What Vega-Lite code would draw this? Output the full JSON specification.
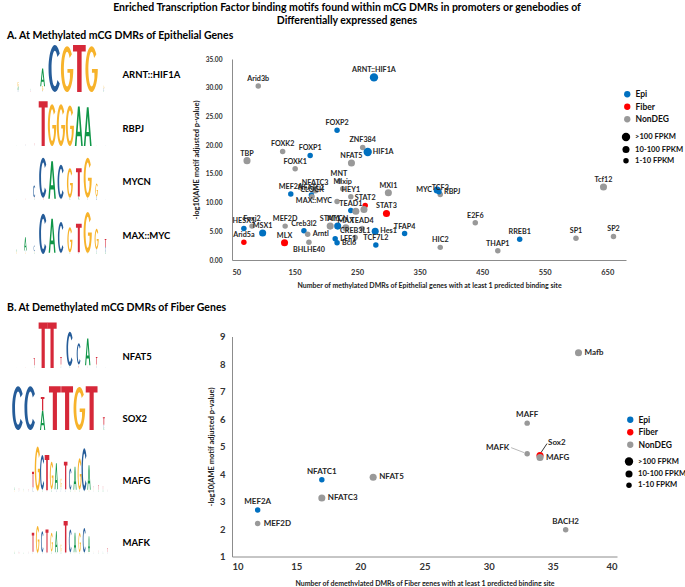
{
  "$schema": "https://vega.github.io/schema/vega-lite/v6.json",
  "background": "white",
  "padding": {"left": 7, "top": 2, "right": 0, "bottom": 0},
  "config": {
    "font": "Lato",
    "view": {"stroke": null},
    "axis": {"grid": false, "ticks": false, "domainColor": "#8c8c8c", "labelColor": "#333333", "titleColor": "#222222", "labelFontWeight": "bold", "titleFontWeight": "bold", "labelFont": "Lato", "titleFont": "Lato"},
    "legend": {"labelFont": "Lato", "labelFontWeight": "bold", "labelColor": "#111111", "padding": 0, "labelFontSize": 8}
  },
  "title": {"text": ["Enriched Transcription Factor binding motifs found within mCG DMRs in promoters or genebodies of", "Differentially expressed genes"], "fontSize": 10.5, "font": "Lato", "fontWeight": "bold", "color": "#000000", "anchor": "middle", "offset": 5, "lineHeight": 13},
  "datasets": {
    "logos": [
      {"panel":"A","motif":"ARNT::HIF1A","pos":1,"letter":"C","b":0,"h":0.08},
      {"panel":"A","motif":"ARNT::HIF1A","pos":1,"letter":"A","b":0.08,"h":0.15},
      {"panel":"A","motif":"ARNT::HIF1A","pos":1,"letter":"G","b":0.23,"h":0.2},
      {"panel":"A","motif":"ARNT::HIF1A","pos":2,"letter":"T","b":0,"h":0.04},
      {"panel":"A","motif":"ARNT::HIF1A","pos":2,"letter":"C","b":0.04,"h":0.05},
      {"panel":"A","motif":"ARNT::HIF1A","pos":2,"letter":"A","b":0.09,"h":0.05},
      {"panel":"A","motif":"ARNT::HIF1A","pos":3,"letter":"C","b":0,"h":0.05},
      {"panel":"A","motif":"ARNT::HIF1A","pos":3,"letter":"G","b":0.05,"h":0.2},
      {"panel":"A","motif":"ARNT::HIF1A","pos":3,"letter":"A","b":0.25,"h":0.75},
      {"panel":"A","motif":"ARNT::HIF1A","pos":4,"letter":"C","b":0,"h":2.0},
      {"panel":"A","motif":"ARNT::HIF1A","pos":5,"letter":"G","b":0,"h":1.95},
      {"panel":"A","motif":"ARNT::HIF1A","pos":6,"letter":"T","b":0,"h":2.0},
      {"panel":"A","motif":"ARNT::HIF1A","pos":7,"letter":"G","b":0,"h":1.95},
      {"panel":"A","motif":"ARNT::HIF1A","pos":8,"letter":"A","b":0,"h":0.05},
      {"panel":"A","motif":"ARNT::HIF1A","pos":8,"letter":"C","b":0.05,"h":0.1},
      {"panel":"A","motif":"ARNT::HIF1A","pos":8,"letter":"G","b":0.15,"h":0.12},
      {"panel":"A","motif":"RBPJ","pos":1,"letter":"A","b":0,"h":0.03},
      {"panel":"A","motif":"RBPJ","pos":2,"letter":"C","b":0,"h":0.05},
      {"panel":"A","motif":"RBPJ","pos":2,"letter":"T","b":0.05,"h":0.04},
      {"panel":"A","motif":"RBPJ","pos":3,"letter":"C","b":0,"h":0.03},
      {"panel":"A","motif":"RBPJ","pos":3,"letter":"T","b":0.03,"h":0.08},
      {"panel":"A","motif":"RBPJ","pos":4,"letter":"T","b":0,"h":1.9},
      {"panel":"A","motif":"RBPJ","pos":5,"letter":"G","b":0,"h":1.78},
      {"panel":"A","motif":"RBPJ","pos":6,"letter":"G","b":0,"h":1.78},
      {"panel":"A","motif":"RBPJ","pos":7,"letter":"G","b":0,"h":1.72},
      {"panel":"A","motif":"RBPJ","pos":8,"letter":"A","b":0,"h":1.68},
      {"panel":"A","motif":"RBPJ","pos":9,"letter":"A","b":0,"h":1.65},
      {"panel":"A","motif":"RBPJ","pos":10,"letter":"G","b":0,"h":0.04},
      {"panel":"A","motif":"RBPJ","pos":11,"letter":"C","b":0,"h":0.03},
      {"panel":"A","motif":"MYCN","pos":1,"letter":"G","b":0,"h":0.03},
      {"panel":"A","motif":"MYCN","pos":2,"letter":"T","b":0,"h":0.05},
      {"panel":"A","motif":"MYCN","pos":3,"letter":"A","b":0,"h":0.06},
      {"panel":"A","motif":"MYCN","pos":3,"letter":"T","b":0.06,"h":0.06},
      {"panel":"A","motif":"MYCN","pos":3,"letter":"C","b":0.12,"h":0.5},
      {"panel":"A","motif":"MYCN","pos":4,"letter":"T","b":0,"h":0.1},
      {"panel":"A","motif":"MYCN","pos":4,"letter":"C","b":0.1,"h":1.7},
      {"panel":"A","motif":"MYCN","pos":5,"letter":"G","b":0,"h":0.05},
      {"panel":"A","motif":"MYCN","pos":5,"letter":"A","b":0.05,"h":1.6},
      {"panel":"A","motif":"MYCN","pos":6,"letter":"T","b":0,"h":0.05},
      {"panel":"A","motif":"MYCN","pos":6,"letter":"C","b":0.05,"h":1.45},
      {"panel":"A","motif":"MYCN","pos":7,"letter":"A","b":0,"h":0.1},
      {"panel":"A","motif":"MYCN","pos":7,"letter":"G","b":0.1,"h":1.25},
      {"panel":"A","motif":"MYCN","pos":8,"letter":"A","b":0,"h":0.15},
      {"panel":"A","motif":"MYCN","pos":8,"letter":"T","b":0.15,"h":1.2},
      {"panel":"A","motif":"MYCN","pos":9,"letter":"C","b":0,"h":0.1},
      {"panel":"A","motif":"MYCN","pos":9,"letter":"G","b":0.1,"h":1.7},
      {"panel":"A","motif":"MYCN","pos":10,"letter":"C","b":0,"h":0.15},
      {"panel":"A","motif":"MYCN","pos":10,"letter":"G","b":0.15,"h":0.55},
      {"panel":"A","motif":"MYCN","pos":11,"letter":"C","b":0,"h":0.03},
      {"panel":"A","motif":"MAX::MYC","pos":1,"letter":"G","b":0,"h":0.1},
      {"panel":"A","motif":"MAX::MYC","pos":1,"letter":"A","b":0.1,"h":0.1},
      {"panel":"A","motif":"MAX::MYC","pos":2,"letter":"G","b":0,"h":0.08},
      {"panel":"A","motif":"MAX::MYC","pos":2,"letter":"C","b":0.08,"h":0.07},
      {"panel":"A","motif":"MAX::MYC","pos":2,"letter":"A","b":0.15,"h":0.56},
      {"panel":"A","motif":"MAX::MYC","pos":3,"letter":"A","b":0,"h":0.06},
      {"panel":"A","motif":"MAX::MYC","pos":3,"letter":"G","b":0.06,"h":0.06},
      {"panel":"A","motif":"MAX::MYC","pos":3,"letter":"C","b":0.12,"h":0.24},
      {"panel":"A","motif":"MAX::MYC","pos":4,"letter":"C","b":0,"h":1.71},
      {"panel":"A","motif":"MAX::MYC","pos":5,"letter":"G","b":0,"h":0.05},
      {"panel":"A","motif":"MAX::MYC","pos":5,"letter":"A","b":0.05,"h":1.45},
      {"panel":"A","motif":"MAX::MYC","pos":6,"letter":"T","b":0,"h":0.05},
      {"panel":"A","motif":"MAX::MYC","pos":6,"letter":"C","b":0.05,"h":1.31},
      {"panel":"A","motif":"MAX::MYC","pos":7,"letter":"A","b":0,"h":0.07},
      {"panel":"A","motif":"MAX::MYC","pos":7,"letter":"G","b":0.07,"h":1.07},
      {"panel":"A","motif":"MAX::MYC","pos":8,"letter":"C","b":0,"h":0.07},
      {"panel":"A","motif":"MAX::MYC","pos":8,"letter":"T","b":0.07,"h":1.22},
      {"panel":"A","motif":"MAX::MYC","pos":9,"letter":"A","b":0,"h":0.05},
      {"panel":"A","motif":"MAX::MYC","pos":9,"letter":"G","b":0.05,"h":1.74},
      {"panel":"A","motif":"MAX::MYC","pos":10,"letter":"A","b":0,"h":0.08},
      {"panel":"A","motif":"MAX::MYC","pos":10,"letter":"C","b":0.08,"h":0.12},
      {"panel":"A","motif":"MAX::MYC","pos":10,"letter":"G","b":0.2,"h":0.87},
      {"panel":"A","motif":"MAX::MYC","pos":11,"letter":"A","b":0,"h":0.1},
      {"panel":"A","motif":"MAX::MYC","pos":11,"letter":"C","b":0.1,"h":0.2},
      {"panel":"A","motif":"MAX::MYC","pos":11,"letter":"T","b":0.3,"h":0.34},
      {"panel":"B","motif":"NFAT5","pos":1,"letter":"C","b":0,"h":0.02},
      {"panel":"B","motif":"NFAT5","pos":2,"letter":"T","b":0,"h":0.03},
      {"panel":"B","motif":"NFAT5","pos":3,"letter":"A","b":0,"h":0.06},
      {"panel":"B","motif":"NFAT5","pos":3,"letter":"C","b":0.06,"h":0.06},
      {"panel":"B","motif":"NFAT5","pos":3,"letter":"T","b":0.12,"h":0.3},
      {"panel":"B","motif":"NFAT5","pos":4,"letter":"T","b":0,"h":1.94},
      {"panel":"B","motif":"NFAT5","pos":5,"letter":"T","b":0,"h":1.94},
      {"panel":"B","motif":"NFAT5","pos":6,"letter":"C","b":0,"h":0.07},
      {"panel":"B","motif":"NFAT5","pos":6,"letter":"G","b":0.07,"h":0.08},
      {"panel":"B","motif":"NFAT5","pos":6,"letter":"T","b":0.15,"h":0.32},
      {"panel":"B","motif":"NFAT5","pos":7,"letter":"A","b":0,"h":0.08},
      {"panel":"B","motif":"NFAT5","pos":7,"letter":"C","b":0.08,"h":1.46},
      {"panel":"B","motif":"NFAT5","pos":8,"letter":"T","b":0,"h":0.08},
      {"panel":"B","motif":"NFAT5","pos":8,"letter":"G","b":0.08,"h":0.07},
      {"panel":"B","motif":"NFAT5","pos":8,"letter":"C","b":0.15,"h":0.9},
      {"panel":"B","motif":"NFAT5","pos":9,"letter":"C","b":0,"h":0.06},
      {"panel":"B","motif":"NFAT5","pos":9,"letter":"G","b":0.06,"h":0.06},
      {"panel":"B","motif":"NFAT5","pos":9,"letter":"A","b":0.12,"h":1.14},
      {"panel":"B","motif":"NFAT5","pos":10,"letter":"C","b":0,"h":0.08},
      {"panel":"B","motif":"NFAT5","pos":10,"letter":"G","b":0.08,"h":0.07},
      {"panel":"B","motif":"NFAT5","pos":10,"letter":"T","b":0.15,"h":0.32},
      {"panel":"B","motif":"NFAT5","pos":11,"letter":"C","b":0,"h":0.03},
      {"panel":"B","motif":"SOX2","pos":1,"letter":"C","b":0,"h":1.86},
      {"panel":"B","motif":"SOX2","pos":2,"letter":"C","b":0,"h":1.86},
      {"panel":"B","motif":"SOX2","pos":3,"letter":"A","b":0,"h":0.83},
      {"panel":"B","motif":"SOX2","pos":3,"letter":"T","b":0.83,"h":0.57},
      {"panel":"B","motif":"SOX2","pos":4,"letter":"T","b":0,"h":1.86},
      {"panel":"B","motif":"SOX2","pos":5,"letter":"T","b":0,"h":1.86},
      {"panel":"B","motif":"SOX2","pos":6,"letter":"G","b":0,"h":1.83},
      {"panel":"B","motif":"SOX2","pos":7,"letter":"T","b":0,"h":1.86},
      {"panel":"B","motif":"SOX2","pos":8,"letter":"A","b":0,"h":0.1},
      {"panel":"B","motif":"SOX2","pos":8,"letter":"C","b":0.1,"h":0.12},
      {"panel":"B","motif":"SOX2","pos":8,"letter":"T","b":0.22,"h":0.32},
      {"panel":"B","motif":"MAFG","pos":1,"letter":"G","b":0,"h":0.08},
      {"panel":"B","motif":"MAFG","pos":1,"letter":"A","b":0.08,"h":0.12},
      {"panel":"B","motif":"MAFG","pos":2,"letter":"C","b":0,"h":0.06},
      {"panel":"B","motif":"MAFG","pos":2,"letter":"T","b":0.06,"h":0.1},
      {"panel":"B","motif":"MAFG","pos":3,"letter":"G","b":0,"h":0.06},
      {"panel":"B","motif":"MAFG","pos":3,"letter":"A","b":0.06,"h":0.08},
      {"panel":"B","motif":"MAFG","pos":4,"letter":"C","b":0,"h":0.05},
      {"panel":"B","motif":"MAFG","pos":4,"letter":"T","b":0.05,"h":0.08},
      {"panel":"B","motif":"MAFG","pos":5,"letter":"C","b":0,"h":0.2},
      {"panel":"B","motif":"MAFG","pos":5,"letter":"T","b":0.2,"h":0.66},
      {"panel":"B","motif":"MAFG","pos":6,"letter":"A","b":0,"h":0.05},
      {"panel":"B","motif":"MAFG","pos":6,"letter":"G","b":0.05,"h":1.88},
      {"panel":"B","motif":"MAFG","pos":7,"letter":"A","b":0,"h":0.1},
      {"panel":"B","motif":"MAFG","pos":7,"letter":"C","b":0.1,"h":1.47},
      {"panel":"B","motif":"MAFG","pos":8,"letter":"C","b":0,"h":0.07},
      {"panel":"B","motif":"MAFG","pos":8,"letter":"T","b":0.07,"h":1.5},
      {"panel":"B","motif":"MAFG","pos":9,"letter":"A","b":0,"h":0.12},
      {"panel":"B","motif":"MAFG","pos":9,"letter":"G","b":0.12,"h":1.17},
      {"panel":"B","motif":"MAFG","pos":10,"letter":"C","b":0,"h":0.12},
      {"panel":"B","motif":"MAFG","pos":10,"letter":"A","b":0.12,"h":1.1},
      {"panel":"B","motif":"MAFG","pos":11,"letter":"C","b":0,"h":0.1},
      {"panel":"B","motif":"MAFG","pos":11,"letter":"A","b":0.1,"h":0.1},
      {"panel":"B","motif":"MAFG","pos":11,"letter":"G","b":0.2,"h":0.37},
      {"panel":"B","motif":"MAFG","pos":12,"letter":"C","b":0,"h":0.12},
      {"panel":"B","motif":"MAFG","pos":12,"letter":"T","b":0.12,"h":1.17},
      {"panel":"B","motif":"MAFG","pos":13,"letter":"A","b":0,"h":0.1},
      {"panel":"B","motif":"MAFG","pos":13,"letter":"C","b":0.1,"h":0.9},
      {"panel":"B","motif":"MAFG","pos":14,"letter":"G","b":0,"h":0.1},
      {"panel":"B","motif":"MAFG","pos":14,"letter":"A","b":0.1,"h":0.97},
      {"panel":"B","motif":"MAFG","pos":15,"letter":"A","b":0,"h":0.1},
      {"panel":"B","motif":"MAFG","pos":15,"letter":"G","b":0.1,"h":1.33},
      {"panel":"B","motif":"MAFG","pos":16,"letter":"A","b":0,"h":0.05},
      {"panel":"B","motif":"MAFG","pos":16,"letter":"C","b":0.05,"h":1.81},
      {"panel":"B","motif":"MAFG","pos":17,"letter":"G","b":0,"h":0.1},
      {"panel":"B","motif":"MAFG","pos":17,"letter":"A","b":0.1,"h":1.04},
      {"panel":"B","motif":"MAFG","pos":18,"letter":"C","b":0,"h":0.06},
      {"panel":"B","motif":"MAFG","pos":18,"letter":"G","b":0.06,"h":0.1},
      {"panel":"B","motif":"MAFG","pos":18,"letter":"T","b":0.16,"h":0.08},
      {"panel":"B","motif":"MAFG","pos":19,"letter":"A","b":0,"h":0.1},
      {"panel":"B","motif":"MAFG","pos":19,"letter":"T","b":0.1,"h":0.2},
      {"panel":"B","motif":"MAFG","pos":20,"letter":"A","b":0,"h":0.12},
      {"panel":"B","motif":"MAFG","pos":20,"letter":"T","b":0.12,"h":0.13},
      {"panel":"B","motif":"MAFG","pos":21,"letter":"C","b":0,"h":0.05},
      {"panel":"B","motif":"MAFG","pos":21,"letter":"T","b":0.05,"h":0.06},
      {"panel":"B","motif":"MAFK","pos":1,"letter":"A","b":0,"h":0.1},
      {"panel":"B","motif":"MAFK","pos":1,"letter":"G","b":0.1,"h":0.06},
      {"panel":"B","motif":"MAFK","pos":2,"letter":"T","b":0,"h":0.08},
      {"panel":"B","motif":"MAFK","pos":2,"letter":"C","b":0.08,"h":0.06},
      {"panel":"B","motif":"MAFK","pos":3,"letter":"A","b":0,"h":0.06},
      {"panel":"B","motif":"MAFK","pos":4,"letter":"C","b":0,"h":0.05},
      {"panel":"B","motif":"MAFK","pos":4,"letter":"T","b":0.05,"h":0.06},
      {"panel":"B","motif":"MAFK","pos":5,"letter":"C","b":0,"h":0.1},
      {"panel":"B","motif":"MAFK","pos":5,"letter":"T","b":0.1,"h":0.8},
      {"panel":"B","motif":"MAFK","pos":6,"letter":"A","b":0,"h":0.05},
      {"panel":"B","motif":"MAFK","pos":6,"letter":"G","b":0.05,"h":1.14},
      {"panel":"B","motif":"MAFK","pos":7,"letter":"A","b":0,"h":0.07},
      {"panel":"B","motif":"MAFK","pos":7,"letter":"C","b":0.07,"h":0.9},
      {"panel":"B","motif":"MAFK","pos":8,"letter":"C","b":0,"h":0.06},
      {"panel":"B","motif":"MAFK","pos":8,"letter":"T","b":0.06,"h":0.98},
      {"panel":"B","motif":"MAFK","pos":9,"letter":"A","b":0,"h":0.1},
      {"panel":"B","motif":"MAFK","pos":9,"letter":"G","b":0.1,"h":0.8},
      {"panel":"B","motif":"MAFK","pos":10,"letter":"C","b":0,"h":0.07},
      {"panel":"B","motif":"MAFK","pos":10,"letter":"A","b":0.07,"h":0.9},
      {"panel":"B","motif":"MAFK","pos":11,"letter":"A","b":0,"h":0.1},
      {"panel":"B","motif":"MAFK","pos":11,"letter":"G","b":0.1,"h":0.3},
      {"panel":"B","motif":"MAFK","pos":12,"letter":"C","b":0,"h":0.06},
      {"panel":"B","motif":"MAFK","pos":12,"letter":"T","b":0.06,"h":1.34},
      {"panel":"B","motif":"MAFK","pos":13,"letter":"A","b":0,"h":0.07},
      {"panel":"B","motif":"MAFK","pos":13,"letter":"C","b":0.07,"h":0.97},
      {"panel":"B","motif":"MAFK","pos":14,"letter":"G","b":0,"h":0.07},
      {"panel":"B","motif":"MAFK","pos":14,"letter":"A","b":0.07,"h":0.83},
      {"panel":"B","motif":"MAFK","pos":15,"letter":"A","b":0,"h":0.08},
      {"panel":"B","motif":"MAFK","pos":15,"letter":"G","b":0.08,"h":0.82},
      {"panel":"B","motif":"MAFK","pos":16,"letter":"A","b":0,"h":0.06},
      {"panel":"B","motif":"MAFK","pos":16,"letter":"C","b":0.06,"h":1.05},
      {"panel":"B","motif":"MAFK","pos":17,"letter":"G","b":0,"h":0.08},
      {"panel":"B","motif":"MAFK","pos":17,"letter":"A","b":0.08,"h":0.68},
      {"panel":"B","motif":"MAFK","pos":18,"letter":"C","b":0,"h":0.06},
      {"panel":"B","motif":"MAFK","pos":18,"letter":"G","b":0.06,"h":0.06},
      {"panel":"B","motif":"MAFK","pos":19,"letter":"A","b":0,"h":0.06},
      {"panel":"B","motif":"MAFK","pos":19,"letter":"T","b":0.06,"h":0.08},
      {"panel":"B","motif":"MAFK","pos":20,"letter":"A","b":0,"h":0.06},
      {"panel":"B","motif":"MAFK","pos":20,"letter":"C","b":0.06,"h":0.06},
      {"panel":"B","motif":"MAFK","pos":21,"letter":"C","b":0,"h":0.08},
      {"panel":"B","motif":"MAFK","pos":21,"letter":"T","b":0.08,"h":0.18}
    ],
    "ptsA": [
      {"tf":"ARNT::HIF1A","n":277,"p":31.8,"grp":"Epi","fpkm":">100 FPKM"},
      {"tf":"Arid3b","n":92,"p":30.3,"grp":"NonDEG","fpkm":"1-10 FPKM"},
      {"tf":"FOXP2","n":218,"p":22.6,"grp":"Epi","fpkm":"1-10 FPKM"},
      {"tf":"ZNF384","n":259,"p":19.6,"grp":"NonDEG","fpkm":"1-10 FPKM"},
      {"tf":"HIF1A","n":267,"p":18.8,"grp":"Epi","fpkm":">100 FPKM"},
      {"tf":"NFAT5","n":241,"p":16.9,"grp":"NonDEG","fpkm":"10-100 FPKM"},
      {"tf":"TBP","n":74,"p":17.3,"grp":"NonDEG","fpkm":"10-100 FPKM"},
      {"tf":"FOXK2","n":131,"p":18.9,"grp":"NonDEG","fpkm":"1-10 FPKM"},
      {"tf":"FOXP1","n":175,"p":18.2,"grp":"Epi","fpkm":"1-10 FPKM"},
      {"tf":"FOXK1","n":151,"p":15.9,"grp":"NonDEG","fpkm":"1-10 FPKM"},
      {"tf":"MNT","n":221,"p":13.7,"grp":"NonDEG","fpkm":"1-10 FPKM"},
      {"tf":"MEF2A","n":144,"p":11.5,"grp":"Epi","fpkm":"1-10 FPKM"},
      {"tf":"NFATC3","n":183,"p":12.2,"grp":"NonDEG","fpkm":"10-100 FPKM"},
      {"tf":"NFATC1","n":177,"p":11.3,"grp":"Epi","fpkm":"1-10 FPKM"},
      {"tf":"CLOCK","n":178,"p":11.0,"grp":"NonDEG","fpkm":"1-10 FPKM"},
      {"tf":"Mlxip","n":227,"p":12.4,"grp":"NonDEG","fpkm":"1-10 FPKM"},
      {"tf":"HEY1","n":240,"p":11.0,"grp":"NonDEG","fpkm":"1-10 FPKM"},
      {"tf":"MAX::MYC","n":218,"p":10.2,"grp":"NonDEG","fpkm":"1-10 FPKM"},
      {"tf":"TEAD1","n":240,"p":8.6,"grp":"Epi","fpkm":"1-10 FPKM"},
      {"tf":"STAT2","n":263,"p":9.5,"grp":"Fiber","fpkm":"1-10 FPKM"},
      {"tf":"TEAD2","n":248,"p":8.5,"grp":"NonDEG","fpkm":"10-100 FPKM"},
      {"tf":"STAT4","n":261,"p":8.8,"grp":"NonDEG","fpkm":"10-100 FPKM"},
      {"tf":"STAT3","n":297,"p":8.1,"grp":"Fiber","fpkm":"10-100 FPKM"},
      {"tf":"MXI1","n":300,"p":11.7,"grp":"NonDEG","fpkm":"10-100 FPKM"},
      {"tf":"TCF3","n":383,"p":11.4,"grp":"NonDEG","fpkm":"1-10 FPKM"},
      {"tf":"RBPJ","n":381,"p":11.9,"grp":"Epi","fpkm":"1-10 FPKM"},
      {"tf":"MYC","n":378,"p":12.2,"grp":"Epi","fpkm":"10-100 FPKM"},
      {"tf":"Foxj2","n":82,"p":5.9,"grp":"NonDEG","fpkm":"1-10 FPKM"},
      {"tf":"HESX1","n":69,"p":5.5,"grp":"Epi","fpkm":"1-10 FPKM"},
      {"tf":"MSX1","n":99,"p":4.7,"grp":"Epi","fpkm":"10-100 FPKM"},
      {"tf":"Arid5a","n":69,"p":3.1,"grp":"Fiber","fpkm":"1-10 FPKM"},
      {"tf":"MEF2D","n":135,"p":5.9,"grp":"NonDEG","fpkm":"1-10 FPKM"},
      {"tf":"MLX","n":134,"p":3.0,"grp":"Fiber","fpkm":"10-100 FPKM"},
      {"tf":"Creb3l2","n":165,"p":5.1,"grp":"Epi","fpkm":"1-10 FPKM"},
      {"tf":"Arntl","n":171,"p":4.5,"grp":"NonDEG","fpkm":"1-10 FPKM"},
      {"tf":"BHLHE40","n":173,"p":3.1,"grp":"NonDEG","fpkm":"1-10 FPKM"},
      {"tf":"STAT1","n":207,"p":5.9,"grp":"NonDEG","fpkm":"10-100 FPKM"},
      {"tf":"MYCN","n":219,"p":5.9,"grp":"Epi","fpkm":"10-100 FPKM"},
      {"tf":"MAX","n":232,"p":5.6,"grp":"NonDEG","fpkm":"10-100 FPKM"},
      {"tf":"TEAD4","n":258,"p":5.5,"grp":"NonDEG","fpkm":"1-10 FPKM"},
      {"tf":"CREB3L1","n":247,"p":3.9,"grp":"NonDEG","fpkm":"1-10 FPKM"},
      {"tf":"LEF1","n":215,"p":3.7,"grp":"Epi","fpkm":"1-10 FPKM"},
      {"tf":"Bcl6","n":218,"p":3.0,"grp":"Epi","fpkm":"1-10 FPKM"},
      {"tf":"Hes1","n":279,"p":5.0,"grp":"Epi","fpkm":"10-100 FPKM"},
      {"tf":"TCF7L2","n":280,"p":2.6,"grp":"Epi","fpkm":"1-10 FPKM"},
      {"tf":"TFAP4","n":326,"p":4.6,"grp":"Epi","fpkm":"1-10 FPKM"},
      {"tf":"HIC2","n":383,"p":2.2,"grp":"NonDEG","fpkm":"1-10 FPKM"},
      {"tf":"Tcf12","n":644,"p":12.7,"grp":"NonDEG","fpkm":"10-100 FPKM"},
      {"tf":"E2F6","n":439,"p":6.5,"grp":"NonDEG","fpkm":"1-10 FPKM"},
      {"tf":"RREB1","n":510,"p":3.6,"grp":"Epi","fpkm":"1-10 FPKM"},
      {"tf":"THAP1","n":475,"p":1.6,"grp":"NonDEG","fpkm":"1-10 FPKM"},
      {"tf":"SP1","n":600,"p":3.8,"grp":"NonDEG","fpkm":"1-10 FPKM"},
      {"tf":"SP2","n":660,"p":4.1,"grp":"NonDEG","fpkm":"1-10 FPKM"}
    ],
    "ptsB": [
      {"tf":"MEF2A","n":12,"p":2.69,"grp":"Epi","fpkm":"1-10 FPKM"},
      {"tf":"MEF2D","n":12,"p":2.2,"grp":"NonDEG","fpkm":"1-10 FPKM"},
      {"tf":"NFATC1","n":17,"p":3.79,"grp":"Epi","fpkm":"1-10 FPKM"},
      {"tf":"NFATC3","n":17,"p":3.13,"grp":"NonDEG","fpkm":"10-100 FPKM"},
      {"tf":"NFAT5","n":21,"p":3.88,"grp":"NonDEG","fpkm":"10-100 FPKM"},
      {"tf":"MAFF","n":33,"p":5.85,"grp":"NonDEG","fpkm":"1-10 FPKM"},
      {"tf":"MAFK","n":33,"p":4.74,"grp":"NonDEG","fpkm":"1-10 FPKM"},
      {"tf":"Sox2","n":34,"p":4.67,"grp":"Fiber","fpkm":"10-100 FPKM"},
      {"tf":"MAFG","n":34,"p":4.6,"grp":"NonDEG","fpkm":"10-100 FPKM"},
      {"tf":"BACH2","n":36,"p":1.97,"grp":"NonDEG","fpkm":"1-10 FPKM"},
      {"tf":"Mafb","n":37,"p":8.41,"grp":"NonDEG","fpkm":"10-100 FPKM"}
    ]
  },
  "columns": 2,
  "spacing": {"row": 68.5, "column": 122},
  "align": "each",
  "bounds": "flush",
  "resolve": {"scale": {"color": "independent", "size": "independent", "shape": "independent", "x": "independent", "y": "independent", "yOffset": "independent"}},
  "concat": [
    {
      "width": 98, "height": 209,
      "title": {"text": "A. At Methylated mCG DMRs of Epithelial Genes", "anchor": "start", "frame": "group", "dx": -5, "offset": 3, "fontSize": 10.5, "font": "Lato", "fontWeight": "bold", "color": "#000000"},
      "data": {"name": "logos"},
      "transform": [{"filter": "datum.panel === 'A'"}],
      "encoding": {
        "y": {"field": "motif", "type": "nominal", "sort": ["ARNT::HIF1A", "RBPJ", "MYCN", "MAX::MYC"], "scale": {"type": "band", "paddingInner": 0.1296, "paddingOuter": 0}, "axis": {"orient": "right", "domain": false, "ticks": false, "title": null, "labelFontSize": 9.5, "labelColor": "#000000", "labelPadding": 12, "labelOffset": -8, "labelAlign": "left"}},
        "yOffset": {"field": "b", "type": "quantitative", "scale": {"domain": [0, 2], "range": [33, -14]}},
        "color": {"field": "letter", "type": "nominal", "scale": {"domain": ["A", "C", "G", "T"], "range": ["#109648", "#255C99", "#F7B32B", "#D62839"]}, "legend": null},
        "size": {"field": "h", "type": "quantitative", "scale": {"type": "pow", "exponent": 2, "domain": [0, 2], "range": [0, 2209]}, "legend": null}
      },
      "layer": [
        {"transform": [{"filter": {"field": "motif", "oneOf": ["ARNT::HIF1A", "SOX2"]}}],
         "mark": {"type": "point", "filled": true, "opacity": 1, "strokeWidth": 0},
         "encoding": {"x": {"field": "pos", "type": "quantitative", "scale": {"domain": [0.5, 8.5], "nice": false, "zero": false}, "axis": null},
           "shape": {"field": "letter", "type": "nominal", "scale": {"domain": ["A", "C", "G", "T"], "range": ["M-0.27,0L-0.061,-2H0.061L0.27,0H0.162L0.115,-0.5H-0.115L-0.162,0ZM-0.081,-0.72H0.081L0,-1.55Z", "M0.207,-1.643A0.27,1,0,1,0,0.207,-0.357L0.109,-0.511A0.142,0.76,0,1,1,0.109,-1.489Z", "M0.207,-1.643A0.27,1,0,1,0,0.27,-1H0.014V-0.84H0.122V-0.611A0.142,0.76,0,1,1,0.109,-1.489Z", "M-0.27,-2H0.27V-1.72H0.095V0H-0.095V-1.72H-0.27Z"]}, "legend": null}}},
        {"transform": [{"filter": {"field": "motif", "oneOf": ["RBPJ", "MYCN", "MAX::MYC", "NFAT5"]}}],
         "mark": {"type": "point", "filled": true, "opacity": 1, "strokeWidth": 0},
         "encoding": {"x": {"field": "pos", "type": "quantitative", "scale": {"domain": [0.5, 11.5], "nice": false, "zero": false}, "axis": null},
           "shape": {"field": "letter", "type": "nominal", "scale": {"domain": ["A", "C", "G", "T"], "range": ["M-0.2,0L-0.045,-2H0.045L0.2,0H0.12L0.085,-0.5H-0.085L-0.12,0ZM-0.06,-0.72H0.06L0,-1.55Z", "M0.153,-1.643A0.2,1,0,1,0,0.153,-0.357L0.080,-0.511A0.105,0.76,0,1,1,0.080,-1.489Z", "M0.153,-1.643A0.2,1,0,1,0,0.2,-1H0.01V-0.84H0.09V-0.609A0.105,0.76,0,1,1,0.080,-1.489Z", "M-0.2,-2H0.2V-1.72H0.07V0H-0.07V-1.72H-0.2Z"]}, "legend": null}}}
      ],
      "resolve": {"scale": {"x": "independent", "shape": "independent"}}
    },
    {
      "width": 394, "height": 201,
      "data": {"name": "ptsA"},
      "encoding": {
        "x": {"field": "n", "type": "quantitative", "scale": {"domain": [50, 680], "nice": false, "zero": false}, "axis": {"values": [50, 150, 250, 350, 450, 550, 650], "title": "Number of methylated DMRs of Epithelial genes with at least 1 predicted binding site", "labelFontSize": 7.5, "titleFontSize": 7, "labelPadding": 8, "titlePadding": 6}},
        "y": {"field": "p", "type": "quantitative", "scale": {"domain": [0, 35], "nice": false}, "axis": {"values": [0, 5, 10, 15, 20, 25, 30, 35], "format": ".2f", "title": "-log10(AME motif adjusted p-value)", "labelFontSize": 6.6, "titleFontSize": 7.5, "labelPadding": 10, "titlePadding": 5}}
      },
      "layer": [
        {"mark": {"type": "circle", "opacity": 1},
         "encoding": {
           "color": {"field": "grp", "type": "nominal", "scale": {"domain": ["Epi", "Fiber", "NonDEG"], "range": ["#0070C0", "#FF0000", "#999999"]}, "legend": {"title": null, "orient": "none", "legendX": 391, "legendY": 31, "symbolSize": 40, "labelFontSize": 8.5, "rowPadding": 3.5, "symbolType": "circle"}},
           "size": {"field": "fpkm", "type": "ordinal", "scale": {"domain": [">100 FPKM", "10-100 FPKM", "1-10 FPKM"], "range": [70, 30, 9]}, "legend": {"title": null, "orient": "none", "legendX": 389, "legendY": 73, "labelFontSize": 7.6, "rowPadding": -8, "encode": {"symbols": {"update": {"fill": {"value": "#000000"}, "stroke": {"value": "#000000"}}}}}}
         }},
        {"transform": [{"filter": {"not": {"field": "tf", "oneOf": ["HIF1A", "RBPJ", "Hes1", "LEF1", "Bcl6", "Arntl", "MYC", "MAX::MYC", "BHLHE40", "TEAD2", "STAT4"]}}}],
         "mark": {"type": "text", "align": "center", "baseline": "bottom", "dy": -3, "fontSize": 7.2, "fontWeight": "bold", "color": "#262626"},
         "encoding": {"text": {"field": "tf"}}},
        {"transform": [{"filter": {"field": "tf", "oneOf": ["HIF1A", "RBPJ", "Hes1", "LEF1", "Bcl6", "Arntl"]}}],
         "mark": {"type": "text", "align": "left", "baseline": "middle", "dx": 5, "fontSize": 7.2, "fontWeight": "bold", "color": "#262626"},
         "encoding": {"text": {"field": "tf"}}},
        {"transform": [{"filter": {"field": "tf", "oneOf": ["MYC", "MAX::MYC"]}}],
         "mark": {"type": "text", "align": "right", "baseline": "middle", "dx": -5, "fontSize": 7.2, "fontWeight": "bold", "color": "#262626"},
         "encoding": {"text": {"field": "tf"}}},
        {"transform": [{"filter": {"field": "tf", "oneOf": ["BHLHE40"]}}],
         "mark": {"type": "text", "align": "center", "baseline": "top", "dy": 4, "fontSize": 7.2, "fontWeight": "bold", "color": "#262626"},
         "encoding": {"text": {"field": "tf"}}}
      ]
    },
    {
      "width": 98, "height": 233,
      "title": {"text": "B. At Demethylated mCG DMRs of Fiber Genes", "anchor": "start", "frame": "group", "dx": -5, "offset": 8.5, "fontSize": 10.5, "font": "Lato", "fontWeight": "bold", "color": "#000000"},
      "data": {"name": "logos"},
      "transform": [{"filter": "datum.panel === 'B'"}],
      "encoding": {
        "y": {"field": "motif", "type": "nominal", "sort": ["NFAT5", "SOX2", "MAFG", "MAFK"], "scale": {"type": "band", "paddingInner": 0.242, "paddingOuter": 0}, "axis": {"orient": "right", "domain": false, "ticks": false, "title": null, "labelFontSize": 9.5, "labelColor": "#000000", "labelPadding": 12, "labelOffset": -3, "labelAlign": "left"}},
        "yOffset": {"field": "b", "type": "quantitative", "scale": {"domain": [0, 2], "range": [31.5, -15.5]}},
        "color": {"field": "letter", "type": "nominal", "scale": {"domain": ["A", "C", "G", "T"], "range": ["#109648", "#255C99", "#F7B32B", "#D62839"]}, "legend": null},
        "size": {"field": "h", "type": "quantitative", "scale": {"type": "pow", "exponent": 2, "domain": [0, 2], "range": [0, 2209]}, "legend": null}
      },
      "layer": [
        {"transform": [{"filter": {"field": "motif", "oneOf": ["ARNT::HIF1A", "SOX2"]}}],
         "mark": {"type": "point", "filled": true, "opacity": 1, "strokeWidth": 0},
         "encoding": {"x": {"field": "pos", "type": "quantitative", "scale": {"domain": [0.5, 8.5], "nice": false, "zero": false}, "axis": null},
           "shape": {"field": "letter", "type": "nominal", "scale": {"domain": ["A", "C", "G", "T"], "range": ["M-0.27,0L-0.061,-2H0.061L0.27,0H0.162L0.115,-0.5H-0.115L-0.162,0ZM-0.081,-0.72H0.081L0,-1.55Z", "M0.207,-1.643A0.27,1,0,1,0,0.207,-0.357L0.109,-0.511A0.142,0.76,0,1,1,0.109,-1.489Z", "M0.207,-1.643A0.27,1,0,1,0,0.27,-1H0.014V-0.84H0.122V-0.611A0.142,0.76,0,1,1,0.109,-1.489Z", "M-0.27,-2H0.27V-1.72H0.095V0H-0.095V-1.72H-0.27Z"]}, "legend": null}}},
        {"transform": [{"filter": {"field": "motif", "oneOf": ["RBPJ", "MYCN", "MAX::MYC", "NFAT5"]}}],
         "mark": {"type": "point", "filled": true, "opacity": 1, "strokeWidth": 0},
         "encoding": {"x": {"field": "pos", "type": "quantitative", "scale": {"domain": [0.5, 11.5], "nice": false, "zero": false}, "axis": null},
           "shape": {"field": "letter", "type": "nominal", "scale": {"domain": ["A", "C", "G", "T"], "range": ["M-0.2,0L-0.045,-2H0.045L0.2,0H0.12L0.085,-0.5H-0.085L-0.12,0ZM-0.06,-0.72H0.06L0,-1.55Z", "M0.153,-1.643A0.2,1,0,1,0,0.153,-0.357L0.080,-0.511A0.105,0.76,0,1,1,0.080,-1.489Z", "M0.153,-1.643A0.2,1,0,1,0,0.2,-1H0.01V-0.84H0.09V-0.609A0.105,0.76,0,1,1,0.080,-1.489Z", "M-0.2,-2H0.2V-1.72H0.07V0H-0.07V-1.72H-0.2Z"]}, "legend": null}}},
        {"transform": [{"filter": {"field": "motif", "oneOf": ["MAFG", "MAFK"]}}],
         "mark": {"type": "point", "filled": true, "opacity": 1, "strokeWidth": 0},
         "encoding": {"x": {"field": "pos", "type": "quantitative", "scale": {"domain": [0.5, 21.5], "nice": false, "zero": false}, "axis": null},
           "shape": {"field": "letter", "type": "nominal", "scale": {"domain": ["A", "C", "G", "T"], "range": ["M-0.13,0L-0.029,-2H0.029L0.13,0H0.078L0.055,-0.5H-0.055L-0.078,0ZM-0.039,-0.72H0.039L0,-1.55Z", "M0.1,-1.643A0.13,1,0,1,0,0.1,-0.357L0.052,-0.511A0.068,0.76,0,1,1,0.052,-1.489Z", "M0.1,-1.643A0.13,1,0,1,0,0.13,-1H0.007V-0.84H0.059V-0.609A0.068,0.76,0,1,1,0.052,-1.489Z", "M-0.13,-2H0.13V-1.72H0.046V0H-0.046V-1.72H-0.13Z"]}, "legend": null}}}
      ],
      "resolve": {"scale": {"x": "independent", "shape": "independent"}}
    },
    {
      "width": 385, "height": 220,
      "data": {"name": "ptsB"},
      "encoding": {
        "x": {"field": "n", "type": "quantitative", "scale": {"domain": [10, 40], "nice": false, "zero": false}, "axis": {"values": [10, 15, 20, 25, 30, 35, 40], "title": "Number of demethylated DMRs of Fiber genes with at least 1 predicted binding site", "labelFontSize": 9.5, "titleFontSize": 7, "labelPadding": 5, "titlePadding": 8}},
        "y": {"field": "p", "type": "quantitative", "scale": {"domain": [1, 9], "nice": false, "zero": false}, "axis": {"values": [1, 2, 3, 4, 5, 6, 7, 8, 9], "title": "-log10(AME motif adjusted p-value)", "labelFontSize": 9.5, "titleFontSize": 7.5, "labelPadding": 7, "titlePadding": 4}}
      },
      "layer": [
        {"transform": [{"filter": {"field": "tf", "equal": "MAFK"}}],
         "mark": {"type": "rule", "color": "#9a9a9a", "strokeWidth": 0.7, "xOffset": -3, "yOffset": -1, "x2Offset": -16, "y2Offset": -6},
         "encoding": {"x2": {"field": "n"}, "y2": {"field": "p"}}},
        {"transform": [{"filter": {"field": "tf", "equal": "Sox2"}}],
         "mark": {"type": "rule", "color": "#000000", "strokeWidth": 0.8, "xOffset": 1, "yOffset": -3, "x2Offset": 7, "y2Offset": -12},
         "encoding": {"x2": {"field": "n"}, "y2": {"field": "p"}}},
        {"mark": {"type": "circle", "opacity": 1},
         "encoding": {
           "color": {"field": "grp", "type": "nominal", "scale": {"domain": ["Epi", "Fiber", "NonDEG"], "range": ["#0070C0", "#FF0000", "#999999"]}, "legend": {"title": null, "orient": "none", "legendX": 394, "legendY": 79, "symbolSize": 40, "labelFontSize": 8.5, "rowPadding": 3.5, "symbolType": "circle"}},
           "size": {"field": "fpkm", "type": "ordinal", "scale": {"domain": [">100 FPKM", "10-100 FPKM", "1-10 FPKM"], "range": [70, 30, 9]}, "legend": {"title": null, "orient": "none", "legendX": 392, "legendY": 120, "labelFontSize": 7.6, "rowPadding": -8, "encode": {"symbols": {"update": {"fill": {"value": "#000000"}, "stroke": {"value": "#000000"}}}}}}
         }},
        {"transform": [{"filter": {"field": "tf", "oneOf": ["MAFF", "BACH2", "NFATC1", "MEF2A"]}}],
         "mark": {"type": "text", "align": "center", "baseline": "bottom", "dy": -4, "fontSize": 8, "fontWeight": "bold", "color": "#262626"},
         "encoding": {"text": {"field": "tf"}}},
        {"transform": [{"filter": {"field": "tf", "oneOf": ["Mafb", "MAFG", "NFAT5", "NFATC3", "MEF2D"]}}],
         "mark": {"type": "text", "align": "left", "baseline": "middle", "dx": 6, "fontSize": 8, "fontWeight": "bold", "color": "#262626"},
         "encoding": {"text": {"field": "tf"}}},
        {"transform": [{"filter": {"field": "tf", "oneOf": ["MAFK"]}}],
         "mark": {"type": "text", "align": "right", "baseline": "bottom", "dx": -18, "dy": -2, "fontSize": 8, "fontWeight": "bold", "color": "#262626"},
         "encoding": {"text": {"field": "tf"}}},
        {"transform": [{"filter": {"field": "tf", "oneOf": ["Sox2"]}}],
         "mark": {"type": "text", "align": "left", "baseline": "bottom", "dx": 8, "dy": -9, "fontSize": 8, "fontWeight": "bold", "color": "#262626"},
         "encoding": {"text": {"field": "tf"}}}
      ]
    }
  ]
}
